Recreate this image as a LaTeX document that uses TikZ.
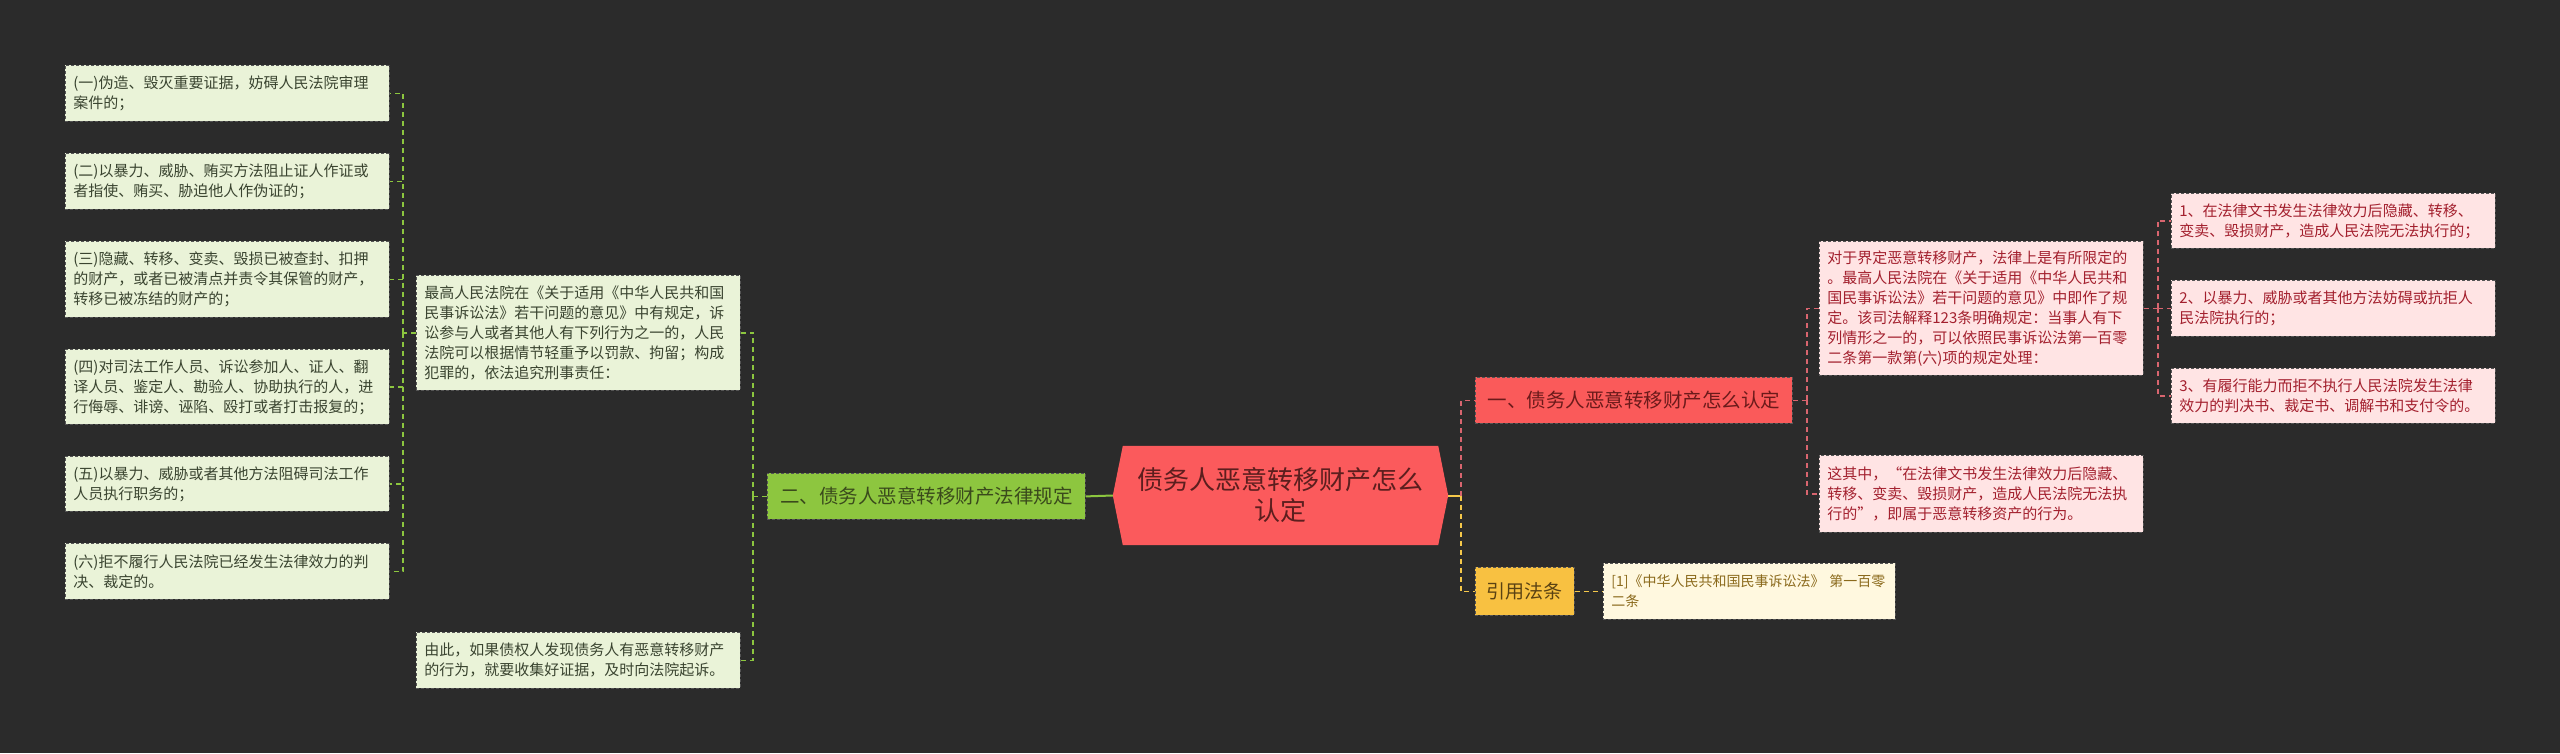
\documentclass[tikz,border=0pt]{standalone}
\usepackage{fontspec}
\setmainfont{Noto Sans CJK SC}
\usetikzlibrary{backgrounds}
\definecolor{bg}{HTML}{2B2B2B}
\definecolor{gfill}{HTML}{EAF3D8}
\definecolor{gtext}{HTML}{3A4430}
\definecolor{gconn}{HTML}{8CC63F}
\definecolor{gnode}{HTML}{8DC63F}
\definecolor{gnodetext}{HTML}{3A4A1C}
\definecolor{rfill}{HTML}{FFE4E4}
\definecolor{rtext}{HTML}{A3202E}
\definecolor{rconn}{HTML}{D9656F}
\definecolor{rnode}{HTML}{FA5A5A}
\definecolor{rnodetext}{HTML}{6B1A1A}
\definecolor{cfill}{HTML}{FB5A5C}
\definecolor{ctext}{HTML}{5C1E1E}
\definecolor{ynode}{HTML}{F8C141}
\definecolor{ynodetext}{HTML}{5A4213}
\definecolor{yconn}{HTML}{F5C84A}
\definecolor{yfill}{HTML}{FFF8DF}
\definecolor{ytext}{HTML}{8B6A1C}
\definecolor{boxline}{HTML}{555555}
\newcommand{\fsz}[2]{\fontsize{#1}{#2}\selectfont}
\begin{document}
\begin{tikzpicture}[x=1pt,y=-1pt,
  leafg/.style={rectangle, anchor=north west, fill=gfill, draw=boxline, line width=0.8pt,
    dash pattern=on 3pt off 2pt, text=gtext, font=\fsz{15}{20}, align=left,
    text width=308pt, inner xsep=8pt, inner ysep=0pt},
  leafr/.style={leafg, fill=rfill, text=rtext},
  branch/.style={rectangle, anchor=north west, draw=boxline, line width=0.8pt,
    dash pattern=on 3pt off 2pt, align=center, inner sep=0pt, font=\fsz{19.5}{24}},
  conng/.style={draw=gconn, line width=1.6pt, dash pattern=on 5pt off 4pt},
  connr/.style={conng, draw=rconn},
  conny/.style={conng, draw=yconn},
  solidg/.style={draw=gconn, line width=2pt},
  solidy/.style={draw=yconn, line width=2pt}]
\begin{scope}[on background layer]
\fill[bg] (0,0) rectangle (2560,753);
\end{scope}
\useasboundingbox (0,0) rectangle (2560,753);

% left leaves
\node[leafg, minimum height=56pt] (L1) at (65,65) {(一)伪造、毁灭重要证据，妨碍人民法院审理\\案件的；};
\node[leafg, minimum height=56pt] (L2) at (65,153) {(二)以暴力、威胁、贿买方法阻止证人作证或\\者指使、贿买、胁迫他人作伪证的；};
\node[leafg, minimum height=76pt] (L3) at (65,241) {(三)隐藏、转移、变卖、毁损已被查封、扣押\\的财产，或者已被清点并责令其保管的财产，\\转移已被冻结的财产的；};
\node[leafg, minimum height=75pt] (L4) at (65,349) {(四)对司法工作人员、诉讼参加人、证人、翻\\译人员、鉴定人、勘验人、协助执行的人，进\\行侮辱、诽谤、诬陷、殴打或者打击报复的；};
\node[leafg, minimum height=55pt] (L5) at (65,456) {(五)以暴力、威胁或者其他方法阻碍司法工作\\人员执行职务的；};
\node[leafg, minimum height=56pt] (L6) at (65,543) {(六)拒不履行人民法院已经发生法律效力的判\\决、裁定的。};

% middle leaves
\node[leafg, minimum height=115pt] (M1) at (416,275) {最高人民法院在《关于适用《中华人民共和国\\民事诉讼法》若干问题的意见》中有规定，诉\\讼参与人或者其他人有下列行为之一的，人民\\法院可以根据情节轻重予以罚款、拘留；构成\\犯罪的，依法追究刑事责任：};
\node[leafg, minimum height=56pt] (M2) at (416,632) {由此，如果债权人发现债务人有恶意转移财产\\的行为，就要收集好证据，及时向法院起诉。};

% green branch
\node[branch, fill=gnode, text=gnodetext, minimum width=318pt, minimum height=46pt] (G) at (767,473) {二、债务人恶意转移财产法律规定};

% center
\node[font=\fsz{26}{31}, text=ctext, align=center, minimum width=335pt, minimum height=99pt, inner sep=0pt] (C) at (1280.5,495.5) {债务人恶意转移财产怎么\\认定};
\begin{scope}[on background layer]
\fill[cfill] (C.west) -- ([xshift=10pt]C.north west) -- ([xshift=-10pt]C.north east) -- (C.east) -- ([xshift=-10pt]C.south east) -- ([xshift=10pt]C.south west) -- cycle;
\end{scope}

% red branch
\node[branch, fill=rnode, text=rnodetext, minimum width=317pt, minimum height=46pt] (R) at (1475,377) {一、债务人恶意转移财产怎么认定};
\node[leafr, minimum height=134pt] (RB1) at (1819,241) {对于界定恶意转移财产，法律上是有所限定的\\。最高人民法院在《关于适用《中华人民共和\\国民事诉讼法》若干问题的意见》中即作了规\\定。该司法解释123条明确规定：当事人有下\\列情形之一的，可以依照民事诉讼法第一百零\\二条第一款第(六)项的规定处理：};
\node[leafr, minimum height=77pt] (RB2) at (1819,455) {这其中，“在法律文书发生法律效力后隐藏、\\转移、变卖、毁损财产，造成人民法院无法执\\行的”，即属于恶意转移资产的行为。};
\node[leafr, minimum height=55pt] (F1) at (2171,193) {1、在法律文书发生法律效力后隐藏、转移、\\变卖、毁损财产，造成人民法院无法执行的；};
\node[leafr, minimum height=56pt] (F2) at (2171,280) {2、以暴力、威胁或者其他方法妨碍或抗拒人\\民法院执行的；};
\node[leafr, minimum height=55pt] (F3) at (2171,368) {3、有履行能力而拒不执行人民法院发生法律\\效力的判决书、裁定书、调解书和支付令的。};

% yellow branch
\node[branch, fill=ynode, text=ynodetext, minimum width=99pt, minimum height=48pt, font=\fsz{19}{24}] (Y) at (1475,567) {引用法条};
\node[leafg, fill=yfill, text=ytext, font=\fsz{14}{20}, text width=276pt, minimum height=56pt, inner xsep=8pt] (Ref) at (1603,563) {\mbox{[1]《中华人民共和国民事诉讼法》~第一百零}\\二条};

% connectors
\draw[conng] (M1.west) -- ++(-13,0) coordinate (jl);
\foreach \n in {L1,L2,L3,L4,L5,L6} \draw[conng] (jl) |- (\n.east);
\draw[conng] (G.west) -- ++(-14,0) coordinate (jm);
\draw[conng] (jm) |- (M1.east);
\draw[conng] (jm) |- (M2.east);
\draw[solidg] (C.west) -- (G.east);
\draw[solidy] (C.east) -- ++(13,0) coordinate (jr);
\draw[connr] (jr) |- (R.west);
\draw[conny] (jr) |- (Y.west);
\draw[connr] (R.east) -- ++(14,0) coordinate (jr2);
\draw[connr] (jr2) |- (RB1.west);
\draw[connr] (jr2) |- (RB2.west);
\draw[connr] (RB1.east) -- ++(14,0) coordinate (jr3);
\foreach \n in {F1,F2,F3} \draw[connr] (jr3) |- (\n.west);
\draw[conny] (Y.east) -- (Ref.west);
\end{tikzpicture}
\end{document}
